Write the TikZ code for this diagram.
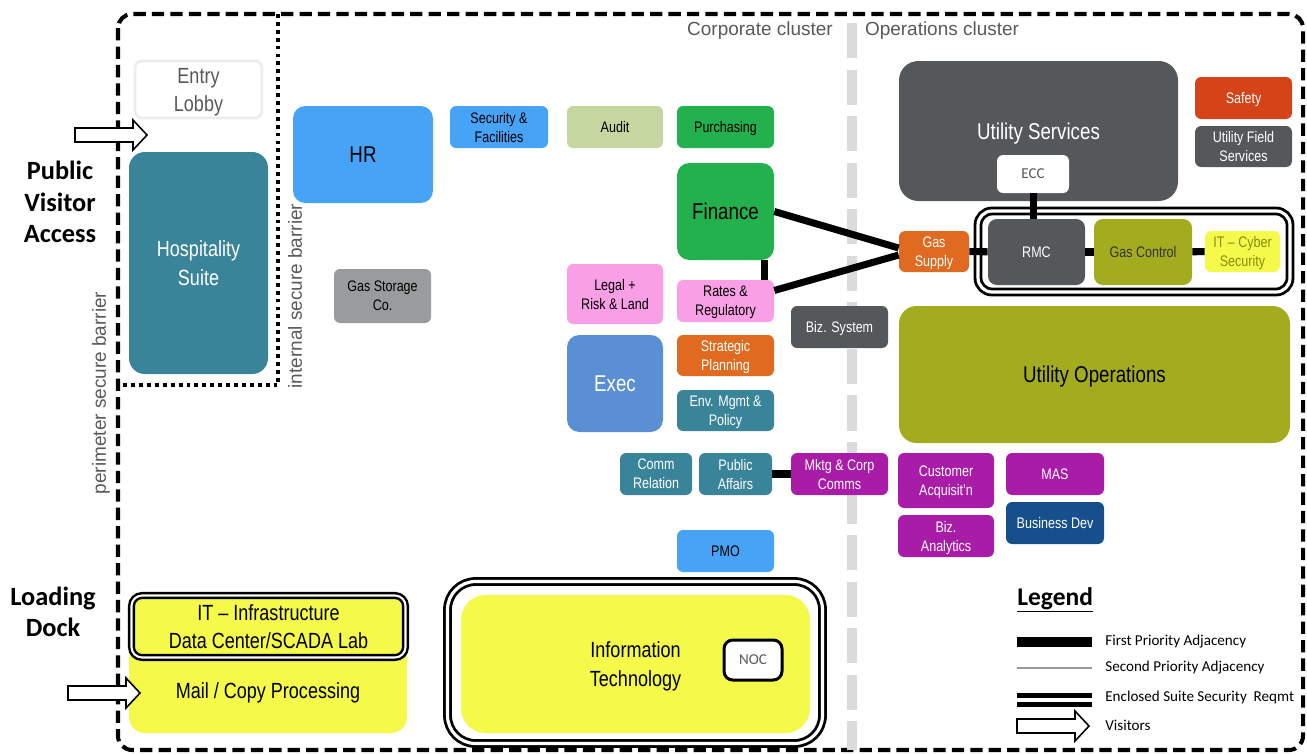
\documentclass[tikz,border=0pt]{standalone}
\usepackage{fontspec}
\setmainfont{Liberation Sans}[FakeStretch=0.82]
\newfontfamily\plainsans{Liberation Sans}
\newfontfamily\califont{Carlito}

\definecolor{tealbox}{HTML}{3A8499}
\definecolor{skyblue}{HTML}{47A3F5}
\definecolor{stonegray}{HTML}{9A9B9D}
\definecolor{sage}{HTML}{C5D6A0}
\definecolor{leafgreen}{HTML}{22B14C}
\definecolor{pinkbox}{HTML}{F99FE6}
\definecolor{execblue}{HTML}{5B8FD3}
\definecolor{orangebox}{HTML}{E06B20}
\definecolor{slatebox}{HTML}{55585A}
\definecolor{plum}{HTML}{A81CA8}
\definecolor{navybox}{HTML}{174E8C}
\definecolor{redbox}{HTML}{D54318}
\definecolor{olivebox}{HTML}{A3AB1E}
\definecolor{lemon}{HTML}{F4F94A}
\definecolor{sepgray}{HTML}{DADBDD}
\definecolor{labelgray}{HTML}{595959}
\definecolor{cybertext}{HTML}{858F12}

\newcommand\fsmall{\fontsize{8.7}{10.8}\selectfont}
\newcommand\fmid{\fontsize{12.5}{16}\selectfont}
\newcommand\fbig{\fontsize{13}{16}\selectfont}
\newcommand\fside{\plainsans\fontsize{10.8}{13}\selectfont}
\newcommand\fbold{\califont\bfseries\fontsize{15}{18}\selectfont}
\newcommand\fcal{\califont\fontsize{8.6}{10.5}\selectfont}

\tikzset{
  room/.style={rounded corners=3.5pt, inner sep=1pt, align=center, text depth=0pt, font=\fsmall},
  bigroom/.style={rounded corners=9pt, inner sep=2pt, align=center, text depth=0pt, font=\fbig},
  sz/.style 2 args={minimum width=#1*0.02cm, minimum height=#2*0.02cm},
  first/.style={line width=4pt},
  suite/.style={draw=black, line width=1.6pt, double=white, double distance=1.8pt},
  sidelabel/.style={text=labelgray, font=\fside},
  legtxt/.style={anchor=west, inner sep=0pt, font=\fcal},
  visitor/.pic={\draw[line width=0.9pt, fill=white] (0,-7) -- (58,-7) -- (58,-15) -- (72,0) -- (58,15) -- (58,7) -- (0,7) -- cycle;}
}

\begin{document}
\begin{tikzpicture}[x=0.02cm, y=-0.02cm]
\useasboundingbox (0,0) rectangle (1307,754);

% Barriers
\draw[line width=2.3pt, dash pattern=on 7pt off 3.5pt, rounded corners=8pt] (118,14) rectangle (1303,750);
\draw[line width=2.3pt, dash pattern=on 2.2pt off 2.3pt] (278,14) -- (278,385) -- (118,385);
\draw[sepgray, line width=5.5pt, dash pattern=on 20pt off 6.5pt] (852,23) -- (852,750);

\node[sidelabel, rotate=90] (intlbl) at (295,296) {internal secure barrier};
\node[sidelabel, rotate=90] (perlbl) at (101,393) {perimeter secure barrier};
\node[sidelabel] (corp) at (760,31) {Corporate cluster};
\node[sidelabel] (ops) at (942,31) {Operations cluster};

% Access points
\node[font=\fbold, align=center] (pva) at (60,202) {Public\\Visitor\\Access};
\node[font=\fbold, align=center] (dock) at (53,612) {Loading\\Dock};
\pic at (75,135) {visitor};

% Public side
\node[room, sz={127}{57}, draw=black!7, line width=1.6pt, fill=white, rounded corners=4pt, text=labelgray, font=\fmid] (lobby) at (198.5,89.5) {Entry\\Lobby};
\node[bigroom, sz={139}{222}, fill=tealbox, text=white, font=\fmid] (hosp) at (198.5,263) {Hospitality\\Suite};

% Corporate cluster
\node[bigroom, sz={140}{97}, fill=skyblue, rounded corners=7pt] (hr) at (363,154.5) {HR};
\node[room, sz={97}{54}, fill=stonegray] (gsc) at (382.5,296) {Gas Storage\\Co.};
\node[room, sz={98}{42}, fill=skyblue] (secfac) at (499,127) {Security \&\\Facilities};
\node[room, sz={96}{42}, fill=sage] (audit) at (615,127) {Audit};
\node[room, sz={97}{42}, fill=leafgreen] (purch) at (725.5,127) {Purchasing};
\node[bigroom, sz={97}{97}, fill=leafgreen, rounded corners=7pt] (fin) at (725.5,211.5) {Finance};
\node[room, sz={96}{60}, fill=pinkbox] (legal) at (615,294) {Legal +\\Risk \& Land};
\node[room, sz={97}{42}, fill=pinkbox] (rates) at (725.5,301) {Rates \&\\Regulatory};
\node[bigroom, sz={96}{97}, fill=execblue, text=white, rounded corners=7pt] (exec) at (615,383.5) {Exec};
\node[room, sz={97}{41}, fill=orangebox, text=white] (strat) at (725.5,355.5) {Strategic\\Planning};
\node[room, sz={97}{41}, fill=tealbox, text=white] (env) at (725.5,410.5) {Env. Mgmt \&\\Policy};
\node[room, sz={97}{42}, fill=slatebox, text=white] (bizsys) at (839.5,327) {Biz. System};
\node[room, sz={72}{42}, fill=tealbox, text=white] (comm) at (656,474) {Comm\\Relation};
\node[room, sz={73}{42}, fill=tealbox, text=white] (pubaff) at (735.5,474) {Public\\Affairs};
\node[room, sz={97}{42}, fill=plum, text=white] (mktg) at (839.5,474) {Mktg \& Corp\\Comms};
\node[room, sz={97}{42}, fill=skyblue] (pmo) at (725.5,551) {PMO};

% Operations cluster
\node[bigroom, sz={279}{140}, fill=slatebox, text=white, rounded corners=11pt] (utilsvc) at (1038.5,131) {Utility Services};
\node[room, sz={72}{38}, fill=white, text=labelgray, font=\fcal] (ecc) at (1033,174) {ECC};
\node[room, sz={97}{42}, fill=redbox, text=white] (safety) at (1243.5,98) {Safety};
\node[room, sz={97}{41}, fill=slatebox, text=white] (ufs) at (1243.5,146.5) {Utility Field\\Services};
\node[suite, sz={312}{81}, rounded corners=8pt] (gcsuite) at (1134,251.5) {};
\node[room, sz={70}{41}, fill=orangebox, text=white] (gas) at (934,251.5) {Gas\\Supply};
\node[room, sz={97}{66}, fill=slatebox, text=white, rounded corners=5pt] (rmc) at (1036.5,252) {RMC};
\node[room, sz={98}{66}, fill=olivebox, text=black!80, rounded corners=5pt] (gasctl) at (1143,252) {Gas Control};
\node[room, sz={75}{41}, fill=lemon, text=cybertext] (itcyber) at (1242.5,251.5) {IT – Cyber\\Security};
\node[bigroom, sz={391}{137}, fill=olivebox, rounded corners=10pt] (utilops) at (1094.5,374.5) {Utility Operations};
\node[room, sz={96}{55}, fill=plum, text=white] (cust) at (946,480.5) {Customer\\Acquisit'n};
\node[room, sz={98}{42}, fill=plum, text=white] (mas) at (1055,474) {MAS};
\node[room, sz={96}{42}, fill=plum, text=white] (bizan) at (946,536) {Biz.\\Analytics};
\node[room, sz={98}{42}, fill=navybox, text=white] (bizdev) at (1055,523) {Business Dev};

% IT and loading dock
\node[bigroom, sz={278}{137}, fill=lemon] (mail) at (268,664.5) {};
\node[font=\fmid] (mailtxt) at (268,693) {Mail / Copy Processing};
\node[bigroom, suite, line width=1.4pt, double distance=1.2pt, sz={274}{62}, fill=lemon, rounded corners=6pt, font=\fmid] (itinfra) at (268.5,626.5) {IT – Infrastructure\\Data Center/SCADA Lab};
\pic at (68,693) {visitor};
\node[suite, sz={375}{162}, fill=white, rounded corners=16pt] (itframe) at (635,662.5) {};
\node[bigroom, sz={349}{138}, fill=lemon, rounded corners=14pt, font=\fmid] (it) at (635.5,664) {Information\\Technology};
\node[room, sz={58}{40}, fill=white, draw=black, line width=1.7pt, rounded corners=5pt, text=labelgray, font=\fcal] (noc) at (753,660) {NOC};

% First priority adjacencies
\draw[first] (fin.east) -- ([yshift=2pt]gas.west);
\draw[first] ([yshift=6pt]rates.east) -- ([yshift=-2pt]gas.west);
\draw[first] ([xshift=22pt]fin.south) -- ([xshift=22pt]rates.north);
\foreach \a/\b in {gas/rmc, rmc/gasctl, gasctl/itcyber}
    \draw[first] (\a) -- (\b);
\draw[first] (ecc) -- (ecc |- rmc.north);
\draw[first] (pubaff) -- (mktg);

% Legend
\node[anchor=west, inner sep=0pt, font=\califont\bfseries\fontsize{14.5}{17}\selectfont] (legend) at (1017,600) {\underline{Legend}};
\node[legtxt] (lgfirst) at (1105,642) {First Priority Adjacency};
\node[legtxt] (lgsecond) at (1105,668) {Second Priority Adjacency};
\node[legtxt] (lgsuite) at (1105,697) {Enclosed Suite Security\ \ Reqmt};
\node[legtxt] (lgvisit) at (1105,725) {Visitors};
\draw[line width=5.5pt] (lgfirst.west) ++(-13,0) -- ++(-75,0);
\draw[gray!80, line width=1.5pt] (lgsecond.west) ++(-13,0) -- ++(-75,0);
\draw[line width=2.5pt, double=white, double distance=2.8pt] (lgsuite.west) ++(-13,3) -- ++(-75,0);
\pic at (1017,726) {visitor};
\end{tikzpicture}
\end{document}
